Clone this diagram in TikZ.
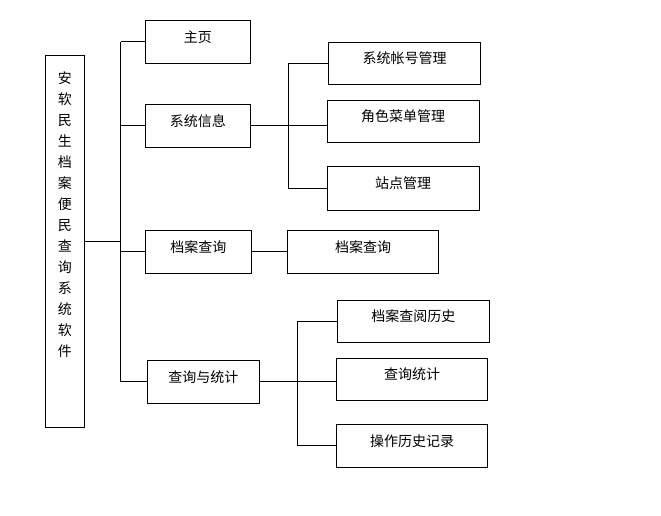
\documentclass[tikz,border=0pt]{standalone}
\usepackage{fontspec}
\newfontfamily\cjk{Noto Sans CJK SC}
\usetikzlibrary{positioning}
\tikzset{boxed/.style = {draw, line width = 1pt, rectangle, inner sep = 0, outer sep = 0,
    font = \cjk\fontsize{14}{21}\selectfont, text height = 8pt, text depth = 7pt}}
\tikzset{link/.style = {line width = 1pt}}

\begin{document}
\begin{tikzpicture}[x = 1pt, y = -1pt]
      \useasboundingbox (0, 0) rectangle (661, 515);
      \node [boxed, minimum width = 39, minimum height = 372.3] (root) at (64.8, 241.2) {};
      \node [anchor = north, inner sep = 0, align = center, font = \cjk\fontsize{14}{21}\selectfont] (rootname) at (64.8, 72)
        {安\\软\\民\\生\\档\\案\\便\\民\\查\\询\\系\\统\\软\\件};
      \node [boxed, minimum width = 105, minimum height = 42.7] (home) at (197.8, 41.7) {主页};
      \node [boxed, minimum width = 105, minimum height = 42.7] (sys) at (197.8, 125.7) {系统信息};
      \node [boxed, minimum width = 106, minimum height = 43] (query) at (198.4, 251.8) {档案查询};
      \node [boxed, minimum width = 112, minimum height = 43.3] (stat) at (203.3, 381.7) {查询与统计};
      \node [boxed, minimum width = 152, minimum height = 41.7] (acct) at (404.7, 63.2) {系统帐号管理};
      \node [boxed, minimum width = 151.7, minimum height = 41.7] (role) at (403.2, 121.2) {角色菜单管理};
      \node [boxed, minimum width = 151.7, minimum height = 44] (site) at (403.2, 188) {站点管理};
      \node [boxed, minimum width = 151.4, minimum height = 43] (querytwo) at (363, 251.8) {档案查询};
      \node [boxed, minimum width = 152, minimum height = 42] (hist) at (413.3, 321.3) {档案查阅历史};
      \node [boxed, minimum width = 151.4, minimum height = 42] (count) at (412, 379.3) {查询统计};
      \node [boxed, minimum width = 151.4, minimum height = 43] (oplog) at (412, 445.8) {操作历史记录};
      % buses
      \coordinate (mainbus) at (120.7, 0);
      \coordinate (sysbus) at (288.3, 0);
      \coordinate (statbus) at (297.7, 0);
      \draw [link] (root.east) -- (root.east -| mainbus);
      \draw [link] (mainbus |- home.west) -- (mainbus |- stat.west);
      \foreach \n in {home, sys, query, stat}
        \draw [link] (mainbus |- \n.west) -- (\n.west);
      \draw [link] (sys.east) -- (role.west |- sys.east);
      \draw [link] (sysbus |- acct.west) -- (sysbus |- site.west);
      \foreach \n in {acct, site}
        \draw [link] (sysbus |- \n.west) -- (\n.west);
      \draw [link] (query.east) -- (querytwo.west);
      \draw [link] (stat.east) -- (count.west |- stat.east);
      \draw [link] (statbus |- hist.west) -- (statbus |- oplog.west);
      \foreach \n in {hist, oplog}
        \draw [link] (statbus |- \n.west) -- (\n.west);
    \end{tikzpicture}
\end{document}
